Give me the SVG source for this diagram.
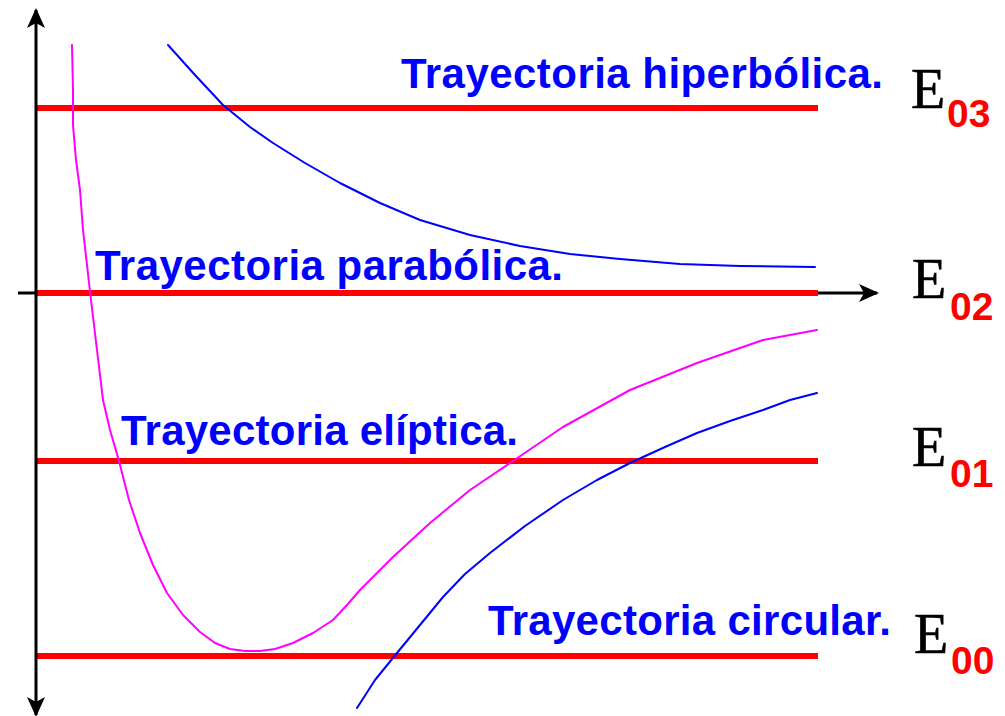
<svg xmlns="http://www.w3.org/2000/svg" width="1005" height="716" viewBox="0 0 1005 716">
<style>
.lvl{stroke:#ff0000;stroke-width:6;fill:none}
.axis{stroke:#000;stroke-width:3;fill:none}
.crv{fill:none;stroke-width:2;stroke-linejoin:round;stroke-linecap:round}
.lbl{font-family:"Liberation Sans",Arial,sans-serif;font-weight:bold;font-size:42px;fill:#0000ff}
.E{font-family:"Liberation Serif","Times New Roman",serif;font-size:56px;fill:#000;stroke:#000;stroke-width:0.6}
.sub{font-family:"Liberation Sans",Arial,sans-serif;font-weight:bold;font-size:39px;fill:#ff0000}
</style>
<defs>
<marker id="ah" viewBox="0 0 20 18" refX="18" refY="9" markerWidth="20" markerHeight="18" markerUnits="userSpaceOnUse" orient="auto">
<path d="M0,0 L20,9 L0,18 L5,9 Z" fill="#000"/>
</marker>
</defs>
<rect width="1005" height="716" fill="#fff"/>
<g id="levels">
<line class="lvl" x1="36" y1="108" x2="818" y2="108"/>
<line class="lvl" x1="36" y1="293" x2="818" y2="293"/>
<line class="lvl" x1="36" y1="461" x2="818" y2="461"/>
<line class="lvl" x1="36" y1="656" x2="818" y2="656"/>
</g>
<g id="axes">
<line class="axis" x1="36" y1="360" x2="36" y2="10" marker-end="url(#ah)"/>
<line class="axis" x1="36" y1="360" x2="36" y2="715" marker-end="url(#ah)"/>
<line class="axis" x1="18" y1="293" x2="36" y2="293"/>
<line class="axis" x1="818" y1="293" x2="877" y2="293" marker-end="url(#ah)"/>
</g>
<g id="curves">
<polyline class="crv" stroke="#ff00ff" points="72,45 73,90 73,125 76,160 80,190 83,230 87,265 91,300 97,350 103,400 110,430 119,461 129,500 140,533 153,565 167,593 183,615 200,632 215,643 230,649 245,651 260,651 275,649 293,643 313,633 333,620 347,605 360,590 376,574 393,557 430,523 470,490 510,463 563,427 630,390 697,363 763,340 817,330"/>
<polyline class="crv" stroke="#0000ff" points="168,45 195,75 223,105 250,127 273,143 305,163 340,183 380,203 420,220 470,235 520,246 570,254 620,259 680,264 740,266 815,267"/>
<polyline class="crv" stroke="#0000ff" points="357,708 375,680 397,653 420,625 443,597 465,574 490,553 525,526 563,500 597,480 630,463 665,447 697,433 730,421 763,410 790,400 817,393"/>
</g>
<g id="label-hiperbolica"><text class="lbl" x="401" y="88" textLength="482" lengthAdjust="spacing">Trayectoria hiperbólica.</text></g>
<g id="label-parabolica"><text class="lbl" x="95" y="280" textLength="468" lengthAdjust="spacing">Trayectoria parabólica.</text></g>
<g id="label-eliptica"><text class="lbl" x="121" y="445" textLength="397" lengthAdjust="spacing">Trayectoria elíptica.</text></g>
<g id="label-circular"><text class="lbl" x="488" y="635" textLength="403" lengthAdjust="spacing">Trayectoria circular.</text></g>
<g id="E03"><text class="E" x="911" y="108">E</text><text class="sub" x="947" y="127">03</text></g>
<g id="E02"><text class="E" x="912" y="298">E</text><text class="sub" x="950" y="320">02</text></g>
<g id="E01"><text class="E" x="912" y="466">E</text><text class="sub" x="950" y="487">01</text></g>
<g id="E00"><text class="E" x="914" y="653">E</text><text class="sub" x="951" y="674">00</text></g>
</svg>
